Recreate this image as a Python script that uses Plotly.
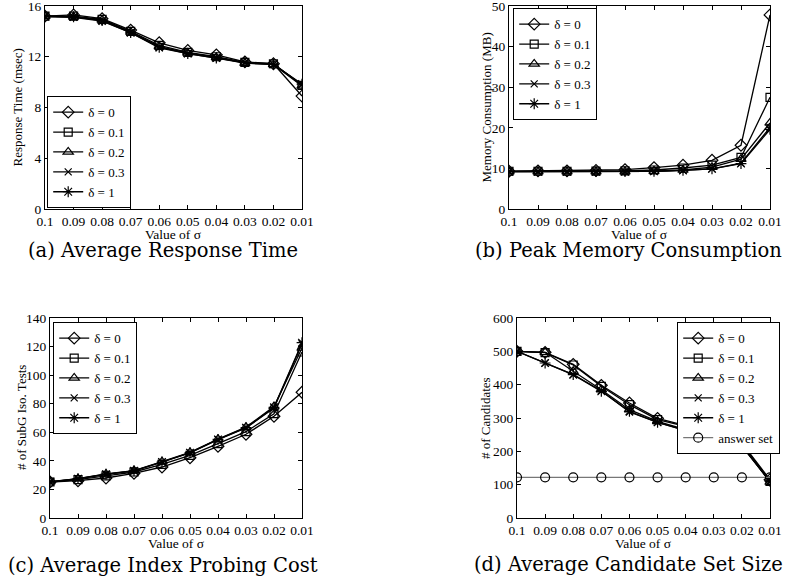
import plotly.graph_objects as go

sigma_labels = ["0.1", "0.09", "0.08", "0.07", "0.06", "0.05", "0.04", "0.03", "0.02", "0.01"]
series_names = ["δ = 0", "δ = 0.1", "δ = 0.2", "δ = 0.3", "δ = 1"]

# (a) Average Response Time (msec)
resp_d0 = [15.2, 15.3, 15.0, 14.1, 13.1, 12.5, 12.15, 11.6, 11.45, 8.9]
resp_d01 = [15.2, 15.2, 14.95, 14.0, 12.9, 12.35, 12.0, 11.55, 11.45, 9.75]
resp_d02 = [15.2, 15.15, 14.9, 13.95, 12.8, 12.3, 11.95, 11.5, 11.4, 9.7]
resp_d03 = [15.15, 15.1, 14.8, 13.9, 12.7, 12.25, 11.9, 11.5, 11.4, 9.8]
resp_d1 = [15.2, 15.15, 14.85, 13.9, 12.75, 12.25, 11.9, 11.55, 11.4, 9.85]

# (b) Peak Memory Consumption (MB)
mem_d0 = [9.3, 9.4, 9.4, 9.5, 9.7, 10.2, 10.8, 12.0, 15.7, 47.8]
mem_d01 = [9.3, 9.3, 9.3, 9.35, 9.4, 9.6, 10.1, 10.8, 12.7, 27.5]
mem_d02 = [9.2, 9.2, 9.2, 9.2, 9.2, 9.3, 9.6, 10.3, 12.3, 21.2]
mem_d03 = [9.2, 9.2, 9.2, 9.2, 9.2, 9.3, 9.5, 9.9, 11.3, 20.1]
mem_d1 = [9.2, 9.2, 9.2, 9.2, 9.2, 9.3, 9.5, 9.9, 11.2, 19.6]

# (c) Average Index Probing Cost (# of SubG Iso. Tests)
iso_d0 = [25.2, 26.1, 28.0, 31.3, 35.7, 42.2, 50.2, 58.6, 71.2, 88.0]
iso_d01 = [25.2, 26.8, 29.5, 32.2, 37.5, 43.9, 52.0, 60.4, 73.0, 116.2]
iso_d02 = [25.4, 27.5, 30.8, 33.2, 39.4, 45.9, 55.2, 63.6, 78.0, 119.0]
iso_d03 = [25.3, 27.4, 30.6, 33.0, 39.1, 45.6, 54.8, 63.0, 77.0, 122.0]
iso_d1 = [25.3, 27.5, 30.7, 33.0, 39.2, 45.7, 55.0, 63.2, 77.5, 122.7]

# (d) Average Candidate Set Size (# of Candidates)
cand_d0 = [500, 497, 461, 398, 345, 299, 277, 256, 225, 115]
cand_d01 = [500, 496, 459, 395, 340, 295, 275, 252, 223, 110]
cand_d02 = [500, 497, 440, 385, 325, 290, 265, 248, 218, 108]
cand_d03 = [500, 465, 430, 382, 318, 287, 262, 243, 215, 110]
cand_d1 = [500, 465, 430, 380, 320, 287, 263, 248, 218, 110]
answer_set = [122, 122, 122, 122, 122, 122, 122, 122, 122, 122]

symbols = ["diamond-open", "square-open", "triangle-up-open", "x-thin-open", "asterisk-open"]
sizes = [9, 8, 9, 7, 9]

panels = [
    ([resp_d0, resp_d01, resp_d02, resp_d03, resp_d1], "Response Time (msec)", [0, 16], [0, 4, 8, 12, 16]),
    ([mem_d0, mem_d01, mem_d02, mem_d03, mem_d1], "Memory Consumption (MB)", [0, 50], [0, 10, 20, 30, 40, 50]),
    ([iso_d0, iso_d01, iso_d02, iso_d03, iso_d1], "# of SubG Iso. Tests", [0, 140], [0, 20, 40, 60, 80, 100, 120, 140]),
    ([cand_d0, cand_d01, cand_d02, cand_d03, cand_d1], "# of Candidates", [0, 600], [0, 100, 200, 300, 400, 500, 600]),
]

W, H = 788, 581
def px(x):
    return x / W
def py(y):
    return 1 - y / H

# plot areas in pixels (left, right, top, bottom)
areas = [(45, 302, 6, 209), (509, 770, 6, 209), (50, 302, 318, 518), (517, 770, 318, 518)]
legend_pos = [(47, 208), (513, 8), (53, 322), (677, 322)]
legend_yanchor = ["bottom", "top", "top", "top"]
ytitle_x = [17, 486, 21, 485]
xtitle_y = [235, 235, 543, 543]
captions = [("(a) Average Response Time", 163, 250), ("(b) Peak Memory Consumption", 628, 250),
            ("(c) Average Index Probing Cost", 163, 565), ("(d) Average Candidate Set Size", 628, 564)]

xpos = list(range(len(sigma_labels)))
fig = go.Figure()
serif = "Liberation Serif, Times New Roman, serif"

layout = dict(width=W, height=H, margin=dict(l=0, r=0, t=0, b=0, autoexpand=False),
              paper_bgcolor="white", plot_bgcolor="white", showlegend=True,
              font=dict(family=serif, color="black", size=13))
annotations = []
for i, (data, ytitle, yrange, ytv) in enumerate(panels):
    k = "" if i == 0 else str(i + 1)
    lg = "legend" + k
    for j, vals in enumerate(data):
        fig.add_trace(go.Scatter(
            x=xpos, y=vals, name=series_names[j], mode="lines+markers",
            line=dict(color="black", width=1.3),
            marker=dict(symbol=symbols[j], size=sizes[j], color="black", line=dict(width=1.2, color="black")),
            xaxis="x" + k, yaxis="y" + k, legend=lg))
    if i == 3:
        fig.add_trace(go.Scatter(
            x=xpos, y=answer_set, name="answer set", mode="lines+markers",
            line=dict(color="#777777", width=1.3),
            marker=dict(symbol="circle-open", size=9, color="black", line=dict(width=1.2, color="black")),
            xaxis="x" + k, yaxis="y" + k, legend=lg))
    l, r, t, b = areas[i]
    axcommon = dict(showline=True, linecolor="black", linewidth=1.2, mirror="ticks",
                    ticks="inside", ticklen=4, tickcolor="black", showgrid=False, zeroline=False,
                    automargin=False, ticklabeloverflow="allow")
    layout["xaxis" + k] = dict(domain=[px(l), px(r)], range=[0, 9], tickvals=xpos, ticktext=sigma_labels,
                               anchor="y" + k, tickfont=dict(family=serif, size=13.5, color="black"),
                               **axcommon)
    layout["yaxis" + k] = dict(domain=[py(b), py(t)], range=yrange, tickvals=ytv, anchor="x" + k,
                               tickfont=dict(family=serif, size=13.5, color="black"), **axcommon)
    annotations.append(dict(text=ytitle, x=px(ytitle_x[i]), y=py((t + b) / 2), xref="paper", yref="paper",
                            textangle=-90, showarrow=False, font=dict(family=serif, size=13),
                            xanchor="center", yanchor="middle"))
    annotations.append(dict(text="Value of σ", x=px((l + r) / 2), y=py(xtitle_y[i]), xref="paper",
                            yref="paper", showarrow=False, font=dict(family=serif, size=13.5),
                            xanchor="center", yanchor="middle"))
    lx, ly = legend_pos[i]
    layout[lg] = dict(x=px(lx), y=py(ly), xanchor="left", yanchor=legend_yanchor[i],
                      bordercolor="black", borderwidth=1.2, bgcolor="white",
                      font=dict(family=serif, size=13, color="black"), tracegroupgap=0,
                      itemwidth=30)
    cap, cx, cy = captions[i]
    annotations.append(dict(text=cap, x=px(cx), y=py(cy), xref="paper", yref="paper", showarrow=False,
                            font=dict(family="DejaVu Serif, serif", size=19.5, color="black"),
                            xanchor="center", yanchor="middle"))

layout["annotations"] = annotations
fig.update_layout(**layout)
fig.write_html("out.html", config={"displayModeBar": False},
               post_script="document.body.style.margin='0';document.body.style.padding='0';")
